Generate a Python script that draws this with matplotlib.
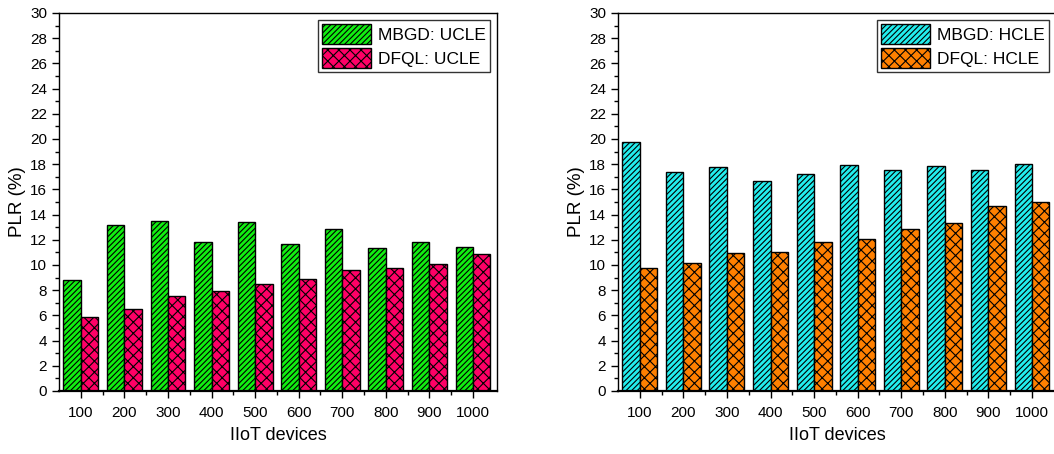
import numpy as np
import matplotlib
matplotlib.use('Agg')
import matplotlib.pyplot as plt

plt.rcParams['font.family'] = ['Liberation Sans', 'DejaVu Sans']
plt.rcParams['hatch.linewidth'] = 0.8

# Data
devices = ['100', '200', '300', '400', '500', '600', '700', '800', '900', '1000']
mbgd_ucle = [8.8, 13.2, 13.5, 11.8, 13.4, 11.65, 12.85, 11.35, 11.85, 11.45]
dfql_ucle = [5.85, 6.5, 7.55, 7.95, 8.5, 8.9, 9.6, 9.75, 10.05, 10.85]
mbgd_hcle = [19.8, 17.35, 17.75, 16.65, 17.2, 17.95, 17.55, 17.85, 17.55, 18.05]
dfql_hcle = [9.75, 10.15, 10.95, 11.05, 11.85, 12.1, 12.85, 13.35, 14.7, 15.0]

fig = plt.figure(figsize=(10.54, 4.54), dpi=100)
ax1 = fig.add_axes([0.056, 0.1388, 0.4155, 0.8326])
ax2 = fig.add_axes([0.5863, 0.1388, 0.4156, 0.8326])

x = np.arange(len(devices))
w = 0.4


def draw(ax, s1, s2, lab1, lab2, c1, c2):
    ax.bar(x - w / 2, s1, w, color=c1, edgecolor='black', linewidth=1.0,
           hatch='//////', label=lab1)
    ax.bar(x + w / 2, s2, w, color=c2, edgecolor='black', linewidth=1.0,
           hatch='xxx', label=lab2)
    ax.set_xlim(-0.5, 9.55)
    ax.set_ylim(0, 30)
    ax.set_yticks(np.arange(0, 31, 2))
    ax.set_yticks(np.arange(1, 30, 2), minor=True)
    ax.set_xticks(x)
    ax.set_xticklabels(devices)
    ax.set_xticks(x[:-1] + 0.5, minor=True)
    ax.tick_params(axis='both', which='major', direction='out', length=5,
                   width=1.0, labelsize=11)
    ax.tick_params(axis='both', which='minor', direction='out', length=3,
                   width=1.0)
    ax.tick_params(axis='x', pad=6)
    for sp in ['top', 'right', 'left']:
        ax.spines[sp].set_linewidth(1.0)
    ax.spines['bottom'].set_linewidth(1.6)
    ax.set_xlabel('IIoT devices', fontsize=13, labelpad=5)
    ax.set_ylabel('PLR (%)', fontsize=13.5, labelpad=3)
    leg = ax.legend(loc='upper right', fontsize=12.5, frameon=True,
                    fancybox=False, edgecolor='black', handlelength=2.8,
                    handleheight=1.4, borderaxespad=0.4, labelspacing=0.2,
                    handletextpad=0.4, borderpad=0.25)
    leg.get_frame().set_linewidth(1.0)


draw(ax1, mbgd_ucle, dfql_ucle, 'MBGD: UCLE', 'DFQL: UCLE', '#11ee11', '#ff0066')
draw(ax2, mbgd_hcle, dfql_hcle, 'MBGD: HCLE', 'DFQL: HCLE', '#22eeee', '#ff8000')

plt.savefig('out.png', dpi=100)
